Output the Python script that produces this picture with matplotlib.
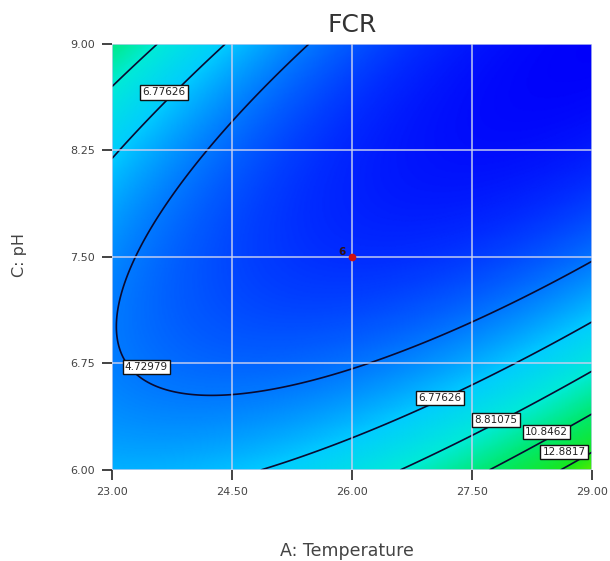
import numpy as np
import matplotlib.pyplot as plt
from matplotlib.colors import LinearSegmentedColormap

# quadratic response surface for FCR, coded units
# terms: const, A, C, AC, A^2, C^2
coef = [2.8024, -0.2664, -2.0409, -4.1433, 2.0710, 3.1075]

temp_range = [23.0, 29.0]
ph_range = [6.0, 9.0]
temp_ticks = [23.00, 24.50, 26.00, 27.50, 29.00]
ph_ticks = [6.00, 6.75, 7.50, 8.25, 9.00]

levels = [4.72979, 6.77626, 8.81075, 10.8462, 12.8817]
# where each contour value is written (level index, A, C)
label_pos = [(1, 23.65, 8.66), (0, 23.43, 6.725), (1, 27.1, 6.507),
             (2, 27.8, 6.352), (3, 28.43, 6.268), (4, 28.65, 6.127)]
design_pt = (26.0, 7.5)

# colour ramp anchored on response values
vmin, vmax = 1.5, 14.0
anchors = [(1.5, (0, 0, 250)), (2.8, (0, 45, 255)), (4.7, (0, 120, 255)),
           (6.8, (0, 205, 255)), (8.8, (0, 235, 215)), (10.8, (0, 232, 110)),
           (12.9, (25, 230, 30)), (14.0, (90, 238, 0))]
cmap = LinearSegmentedColormap.from_list(
    'fcr', [((v - vmin) / (vmax - vmin), tuple(c / 255 for c in rgb)) for v, rgb in anchors])

A = np.linspace(temp_range[0], temp_range[1], 400)
C = np.linspace(ph_range[0], ph_range[1], 400)
AA, CC = np.meshgrid(A, C)
X = (AA - 26.0) / 3.0
Y = (CC - 7.5) / 1.5
Z = coef[0] + coef[1]*X + coef[2]*Y + coef[3]*X*Y + coef[4]*X**2 + coef[5]*Y**2

fig = plt.figure(figsize=(6.1, 5.61), dpi=100)
ax = fig.add_axes([0.1836, 0.1622, 0.787, 0.7594])
ax.pcolormesh(AA, CC, Z, cmap=cmap, shading='gouraud', vmin=vmin, vmax=vmax)
ax.contour(AA, CC, Z, levels=levels, colors='#0a0a30', linewidths=1.2)
for i, a, c in label_pos:
    ax.text(a, c, '%g' % levels[i], fontsize=7.5, color='#222222', ha='center', va='center',
            zorder=5, bbox=dict(boxstyle='square,pad=0.22', fc='white', ec='#111111', lw=1.0))

ax.grid(True, color='#c8d0f0', alpha=0.75, lw=1.4)
ax.set_axisbelow(False)
ax.plot(*design_pt, 'o', color='#d01010', ms=4.5, zorder=6)
ax.annotate('6', design_pt, xytext=(-7, 0), textcoords='offset points',
            fontsize=7.5, color='#301010', fontweight='bold', ha='center', va='bottom', zorder=6)

ax.set_xlim(temp_range)
ax.set_ylim(ph_range)
ax.set_xticks(temp_ticks)
ax.set_yticks(ph_ticks)
ax.set_xticklabels(['%.2f' % v for v in temp_ticks])
ax.set_yticklabels(['%.2f' % v for v in ph_ticks])
ax.tick_params(length=7, width=1.2, color='#222222', labelsize=8, labelcolor='#444444', pad=5)
for s in ax.spines.values():
    s.set_visible(False)

fig.text(0.577, 0.955, 'FCR', fontsize=18, color='#333333', ha='center', va='center')
fig.text(0.569, 0.018, 'A: Temperature', fontsize=12.5, color='#444444', ha='center', va='center')
fig.text(0.032, 0.545, 'C: pH', fontsize=11.5, color='#444444', ha='center', va='center', rotation=90)

fig.savefig('out.png')
